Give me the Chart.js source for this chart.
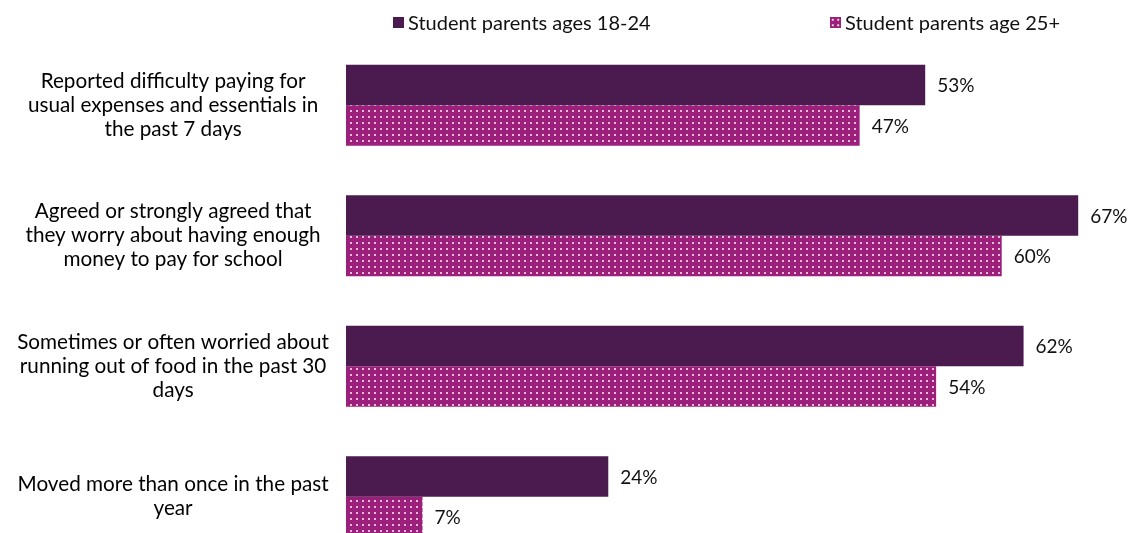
<!DOCTYPE html>
<html>
<head>
<meta charset="utf-8">
<script src="https://cdn.jsdelivr.net/npm/chart.js@4/dist/chart.umd.min.js"></script>
<style>
  html, body { margin:0; padding:0; background:#fff; width:1131px; height:533px; overflow:hidden; }
  #wrap { position:relative; width:1131px; height:575px; }
  #c { display:block; }
  #legend { position:absolute; top:0; left:0; width:1131px; height:40px; font-family:Lato, sans-serif; font-size:20px; color:#111; }
  .li { position:absolute; top:10px; height:24px; line-height:24px; display:flex; align-items:center; white-space:nowrap; }
  .box { width:11px; height:11px; margin-right:4px; display:inline-block; }
</style>
</head>
<body>
<div id="wrap">
  <canvas id="c" width="1131" height="575"></canvas>
  <div id="legend"></div>
</div>
<script>
const categories = [
  ["Reported difficulty paying for", "usual expenses and essentials in", "the past 7 days"],
  ["Agreed or strongly agreed that", "they worry about having enough", "money to pay for school"],
  ["Sometimes or often worried about", "running out of food in the past 30", "days"],
  ["Moved more than once in the past", "year"]
];
const seriesNames = ["Student parents ages 18-24", "Student parents age 25+"];
const ages18to24 = [53, 67, 62, 24];
const ages25plus = [47, 60, 54, 7];

const DARK = '#4b1a4f';
const PINK = '#9c1f7b';

function makePattern() {
  const p = document.createElement('canvas');
  p.width = 6; p.height = 6;
  const g = p.getContext('2d');
  g.fillStyle = PINK; g.fillRect(0, 0, 6, 6);
  g.fillStyle = 'rgba(255,255,255,0.7)';
  g.fillRect(2, 2, 2, 2);
  return document.getElementById('c').getContext('2d').createPattern(p, 'repeat');
}
const pattern = makePattern();

// HTML legend
const legend = document.getElementById('legend');
const legendItems = [
  { x: 393, label: seriesNames[0], bg: DARK },
  { x: 830, label: seriesNames[1], bg: PINK, dots: true }
];
legendItems.forEach(it => {
  const d = document.createElement('div');
  d.className = 'li';
  d.style.left = it.x + 'px';
  const b = document.createElement('span');
  b.className = 'box';
  b.style.background = it.bg;
  if (it.dots) {
    b.style.backgroundImage = 'radial-gradient(circle, rgba(255,255,255,0.9) 1px, transparent 1.3px)';
    b.style.backgroundSize = '5.5px 5.5px';
    b.style.backgroundColor = PINK;
  }
  const t = document.createElement('span');
  t.textContent = it.label;
  d.appendChild(b); d.appendChild(t);
  legend.appendChild(d);
});

const valueLabels = {
  id: 'valueLabels',
  afterDatasetsDraw(chart) {
    const ctx = chart.ctx;
    ctx.save();
    ctx.font = '19px Lato, sans-serif';
    ctx.fillStyle = '#111';
    ctx.textAlign = 'left';
    ctx.textBaseline = 'middle';
    chart.data.datasets.forEach((ds, di) => {
      const meta = chart.getDatasetMeta(di);
      meta.data.forEach((el, i) => {
        ctx.fillText(ds.data[i] + '%', el.x + 12, el.y + 1);
      });
    });
    ctx.restore();
  }
};

new Chart(document.getElementById('c'), {
  type: 'bar',
  data: {
    labels: categories,
    datasets: [
      { label: seriesNames[0], data: ages18to24, backgroundColor: DARK, borderWidth: 0 },
      { label: seriesNames[1], data: ages25plus, backgroundColor: pattern, borderWidth: 0 }
    ]
  },
  options: {
    indexAxis: 'y',
    responsive: false,
    animation: false,
    layout: { padding: { top: 40, bottom: 13, right: 20, left: 0 } },
    datasets: { bar: { categoryPercentage: 0.62, barPercentage: 1.0 } },
    plugins: { legend: { display: false }, tooltip: { enabled: false } },
    scales: {
      x: { display: false, min: 0, max: 70 },
      y: {
        grid: { display: false, drawTicks: false },
        border: { display: false },
        ticks: {
          crossAlign: 'center',
          padding: 17,
          color: '#000',
          font: { family: 'Lato, sans-serif', size: 20.7, lineHeight: 1.16 }
        },
        afterFit(scale) {
          scale.width = 346;
          scale.paddingTop = 0;
          scale.paddingBottom = 0;
        }
      }
    }
  },
  plugins: [valueLabels]
});
</script>
</body>
</html>
